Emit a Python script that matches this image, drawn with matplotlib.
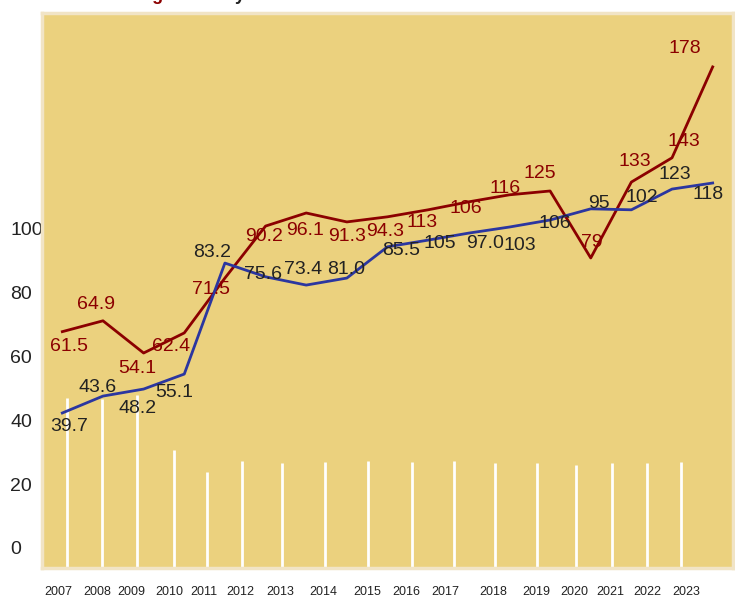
import matplotlib
matplotlib.use("Agg")
import matplotlib.pyplot as plt

# values
years = list(range(2007, 2024))
red_vals = [67.8, 71.2, 61.1, 67.4, 84.6, 100.9, 105.0, 102.2, 103.8, 106.0,
            108.5, 110.7, 111.9, 90.9, 114.7, 122.3, 150.8]
blue_vals = [42.3, 47.6, 49.8, 54.5, 89.3, 85.0, 82.4, 84.6, 94.4, 96.5,
             98.7, 100.6, 102.8, 106.3, 106.0, 112.5, 114.4]
red_labels = ["61.5", "64.9", "54.1", "62.4", "71.5", "90.2", "96.1", "91.3", "94.3",
              "113", "106", "116", "125", "79", "133", "143", "178"]
blue_labels = ["39.7", "43.6", "48.2", "55.1", "83.2", "75.6", "73.4", "81.0", "85.5",
               "105", "97.0", "103", "106", "95", "102", "123", "118"]
stick_vals = [46.9, 46.6, 47.8, 30.6, 23.8, 27.2, 26.6, 26.9, 27.2, 26.9,
              27.2, 26.6, 26.6, 25.9, 26.6, 26.6, 26.9]
y_ticks = [0, 20, 40, 60, 80, 100]

# layout bits (uneven spacing in the original)
stick_x = [2007.12, 2007.98, 2008.84, 2009.75, 2010.56, 2011.42, 2012.40, 2013.46,
           2014.52, 2015.60, 2016.64, 2017.64, 2018.68, 2019.64, 2020.52, 2021.38, 2022.22]
tick_x = [2006.89, 2007.87, 2008.69, 2009.64, 2010.48, 2011.39, 2012.37, 2013.43,
          2014.49, 2015.47, 2016.43, 2017.59, 2018.65, 2019.60, 2020.49, 2021.38, 2022.36]
red_off = [(7, -15), (-7, 16), (-6, -15), (-13, -14), (-14, -11), (-1, -10), (-1, -18),
           (0, -15), (-2, -15), (-6, -13), (-3, -7), (-4, 6), (-10, 17), (1, 15),
           (3, 21), (12, 16), (-28, 18)]
blue_off = [(7, -14), (-5, 9), (-6, -19), (-10, -18), (-13, 11), (-3, 2), (-3, 16),
            (-1, 9), (14, -4), (12, -3), (16, -10), (10, -18), (5, -3), (8, 5),
            (10, 12), (3, 15), (-5, -11)]

red = "#8b0000"
blue = "#2b36a0"
txt = "#222222"

plt.rcParams['font.family'] = ['Liberation Sans', 'DejaVu Sans']

fig = plt.figure(figsize=(7.35, 5.98), dpi=100)
ax = fig.add_axes([42 / 735, 1 - 568 / 598, 691 / 735, 555 / 598])
ax.set_facecolor("#ebd17e")
ax.set_xlim(2006.5, 2023.5)
ax.set_ylim(-6.3, 167.7)

ax.vlines(stick_x, -6.3, stick_vals, color="white", linewidth=2, zorder=1)

ax.plot(years, red_vals, color=red, linewidth=2, zorder=3)
ax.plot(years, blue_vals, color=blue, linewidth=2, zorder=3)

for x, v, s, off in zip(years, red_vals, red_labels, red_off):
    ax.annotate(s, (x, v), xytext=off, textcoords="offset pixels",
                ha="center", va="center", fontsize=14, color=red, zorder=4)
for x, v, s, off in zip(years, blue_vals, blue_labels, blue_off):
    ax.annotate(s, (x, v), xytext=off, textcoords="offset pixels",
                ha="center", va="center", fontsize=14, color=txt, zorder=4)

ax.set_yticks(y_ticks)
ax.set_yticklabels([str(t) for t in y_ticks], fontsize=14, color=txt, ha="left")
ax.set_xticks(tick_x)
ax.set_xticklabels([str(y) for y in years], fontsize=9, color=txt)
ax.tick_params(axis="y", length=0, pad=23)
ax.tick_params(axis="x", length=0, pad=13)

for sp in ax.spines.values():
    sp.set_color("#f1e4c6")
    sp.set_linewidth(2.5)

# title sits mostly above the canvas, only descenders show
fig.text(164 / 735, 1 - 0.5 / 598, "Rising", ha="right", va="baseline",
         fontsize=13, fontweight="bold", color=red)
fig.text(164 / 735, 1 - 0.5 / 598, " Costs by Sector", ha="left", va="baseline",
         fontsize=13, fontweight="bold", color=txt)

fig.savefig("out.png", dpi=100)
